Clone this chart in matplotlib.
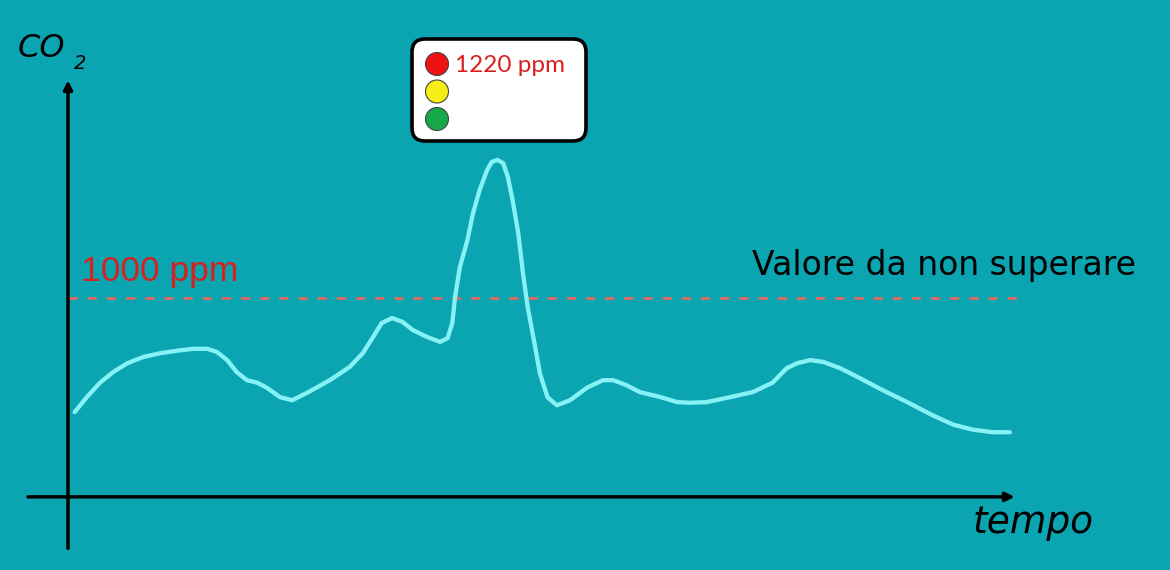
import matplotlib
matplotlib.use("Agg")
import matplotlib.pyplot as plt
from matplotlib.patches import FancyBboxPatch, Circle

# CO2 curve (time in minutes, CO2 in ppm)
tempo = [0.7, 2.0, 3.4, 4.8, 6.3, 8.0, 9.8, 11.6, 13.3, 14.8,
         15.8, 16.9, 17.9, 19.0, 20.1, 21.1, 22.5, 23.8, 25.4, 27.8,
         29.9, 31.3, 32.4, 33.3, 34.4, 35.5, 36.6, 38.1, 39.5, 40.3,
         40.8, 41.1, 41.6, 42.4, 43.0, 43.7, 44.5, 45.0, 45.6, 46.2,
         46.7, 47.2, 47.8, 48.3, 48.8, 49.4, 50.1, 50.9, 51.9, 53.3,
         55.1, 56.8, 57.9, 59.3, 60.7, 62.9, 64.7, 66.0, 67.8, 70.0,
         72.7, 74.8, 76.3, 77.4, 78.8, 80.2, 82.0, 84.1, 86.5, 89.1,
         91.8, 94.0, 96.1, 98.2, 100.0]
co2 = [818, 842, 865, 882, 896, 906, 912, 916, 919, 919,
       914, 901, 882, 869, 865, 857, 842, 837, 849, 869,
       890, 912, 938, 960, 968, 962, 949, 938, 930, 936,
       960, 1002, 1049, 1092, 1135, 1172, 1204, 1217, 1220, 1215,
       1193, 1156, 1104, 1040, 986, 938, 880, 842, 829, 837,
       857, 869, 869, 861, 850, 842, 834, 833, 834, 841,
       850, 865, 888, 896, 901, 898, 888, 872, 853, 834,
       813, 798, 790, 786, 786]

limite = 1000
picco = 1220
luci = ["#f01212", "#f6ee14", "#16a84a"]

bg = "#0aa5b0"
fig = plt.figure(figsize=(11.7, 5.7), dpi=100, facecolor=bg)
ax = fig.add_axes([0, 0, 1, 1], facecolor=bg)
ax.set_xlim(-7.22, 117.0)
ax.set_ylim(566.4, 1475.0)
ax.axis("off")

# axes with arrows
arrow = dict(arrowstyle="-|>", color="black", lw=2.5,
             mutation_scale=13, shrinkA=0, shrinkB=0)
ax.annotate("", xy=(0, 1347), xytext=(0, 601), arrowprops=arrow)
ax.annotate("", xy=(100.5, 683), xytext=(-4.25, 683), arrowprops=arrow)

# threshold line
ax.plot([0, 100.8], [limite, limite], color="#e46a5e", lw=2,
        dashes=(3.3, 3.6))
ax.text(1.4, 1027, f"{limite} ppm", color="#d8201e", fontsize=25.5,
        family="Liberation Sans", va="baseline", ha="left")
ax.text(72.6, 1037, "Valore da non superare", color="black",
        fontsize=23.8, family="DejaVu Sans", va="baseline", ha="left")

# curve
ax.plot(tempo, co2, color="#86f2f6", lw=3.1, solid_joinstyle="round",
        solid_capstyle="round")

# axis labels
ax.text(-5.3, 1398, "CO", fontsize=23, style="italic", family="DejaVu Sans",
        va="center", ha="left")
ax.text(0.6, 1373, "2", fontsize=14, style="italic", family="DejaVu Sans",
        va="center", ha="left")
ax.text(96.0, 625, "tempo", fontsize=27, style="italic",
        family="DejaVu Sans", va="baseline", ha="left")

# traffic light box, in its own pixel-sized axes
bx = fig.add_axes([411 / 1170, 1 - 142 / 570, 176 / 1170, 104 / 570])
bx.set_xlim(0, 176)
bx.set_ylim(104, 0)
bx.set_aspect("equal")
bx.axis("off")
bx.add_patch(FancyBboxPatch((1, 1), 174, 102,
                            boxstyle="round,pad=0,rounding_size=13",
                            facecolor="white", edgecolor="black", lw=2.6,
                            clip_on=False))
for i, col in enumerate(luci):
    bx.add_patch(Circle((26, 26 + 27.5 * i), 11.5, facecolor=col,
                        edgecolor="#444444", lw=0.8))
bx.text(44, 27, f"{picco} ppm", color="#d8201e", fontsize=17.5,
        family="Lato", va="center", ha="left")

fig.savefig("out.png", dpi=100, facecolor=bg)
